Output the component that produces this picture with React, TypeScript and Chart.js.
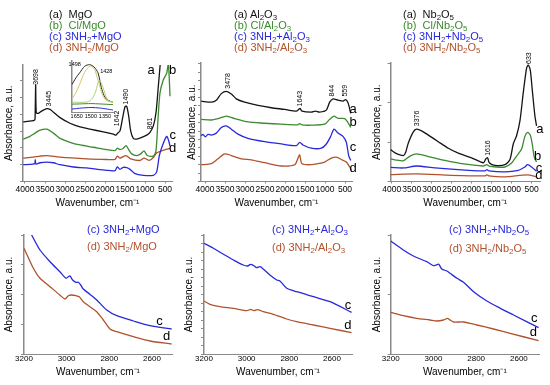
import React, { useEffect, useRef } from 'react';
import { Chart, registerables } from 'chart.js';

Chart.register(...registerables);
Chart.defaults.font.family = '"Liberation Sans", Arial, Helvetica, sans-serif';
Chart.defaults.color = '#000';

type Pt = [number, number];

const C_BLACK = '#141414';
const C_GREEN = '#3c8a2e';
const C_BLUE = '#2828dc';
const C_BROWN = '#b0522c';
const C_YELLOW = '#d2c65c';
const C_LGREEN = '#a9d27c';
const AXIS = '#8a8a8a';

// ---- tick values ----
const TOP_X_TICKS = [4000, 3500, 3000, 2500, 2000, 1500, 1000, 500];
const ZOOM_X_TICKS = [3200, 3000, 2800, 2600];
const INSET_X_TICKS = [1650, 1500, 1350];
const MGO_Y_TICKS = [0, 17, 34, 51, 68, 85, 102];
const AL_Y_TICKS = [0, 8.5, 17, 25.5, 34, 42.5, 51, 59.5, 68, 76.5, 85, 93.5, 102, 110.5, 119];
const NB_Y_TICKS = [0, 40, 80, 120];
const MGO_ZOOM_Y_TICKS = [0, 30, 60, 90, 119];
const AL_ZOOM_Y_TICKS = [0, 8.5, 17, 25.5, 34, 42.5, 51, 59.5, 68, 76.5, 85, 93.5, 102, 110.5, 119];
const NB_ZOOM_Y_TICKS = [0, 59.5, 119];

// ---- MgO full spectra (wavenumber, absorbance a.u.) ----
const mgoA: Pt[] = [[4045,60.3],[3833,61.3],[3758,62.3],[3748,64],[3733,98],[3718,69.7],[3667,69],[3583,71.3],[3458,73.7],[3375,73],[3292,70.3],[3125,64.7],[2875,59],[2625,55.3],[2375,53],[2042,50.3],[1792,48],[1725,47],[1683,49],[1625,51.3],[1558,64.7],[1500,75.7],[1458,76.3],[1408,66.3],[1358,51.3],[1292,43.7],[1208,43],[1083,44.7],[958,47],[875,49.7],[792,56.3],[725,69.7],[667,96.3],[625,116.3],[592,135]];
const mgoB: Pt[] = [[4045,43],[3875,45.7],[3750,49],[3625,52],[3458,53],[3292,49],[3125,43.7],[2875,39.7],[2625,37],[2292,34.7],[1958,32.3],[1750,31.3],[1692,33.7],[1625,32.3],[1542,33.7],[1475,36.3],[1408,32.3],[1333,28],[1208,26.3],[1108,28],[1025,31],[942,26.3],[792,25.7],[725,31.3],[675,63],[625,89.7],[542,103],[458,109.7],[417,119],[392,103],[375,86.3]];
const mgoC: Pt[] = [[4045,17],[3808,17.7],[3758,18],[3742,22],[3725,17.7],[3625,19],[3458,19.7],[3292,19],[3125,17],[2792,14.7],[2458,13.7],[1958,11.3],[1750,11],[1692,14.7],[1625,12.3],[1542,14.3],[1458,14],[1375,12.3],[1250,8],[1042,6.3],[792,6.3],[708,9.7],[642,26.3],[558,37],[458,45.7],[408,41.3],[375,35.7]];
const mgoD: Pt[] = [[4045,23.7],[3792,24.7],[3625,25.7],[3458,26.3],[3125,24.7],[2458,23],[1958,22.3],[1750,22.3],[1692,25.7],[1625,23.7],[1475,26.3],[1358,23],[1125,21.3],[1025,23.7],[892,21.3],[792,24.3],[708,29],[583,31],[458,32.7],[375,33.7]];

// ---- MgO inset (1700-1265 cm-1) ----
const insetA: Pt[] = [[1700,28],[1657,35],[1618,40],[1565,46.7],[1512,48.3],[1467,46],[1424,40],[1389,25],[1361,17],[1336,13.3],[1297,11],[1265,10]];
const insetFit1: Pt[] = [[1700,13.3],[1657,20],[1618,28.3],[1583,37],[1548,43.3],[1502,46.7],[1459,43.3],[1435,36],[1406,26.7],[1382,19],[1353,13.3],[1318,11],[1265,10]];
const insetFit2: Pt[] = [[1700,10],[1548,10],[1509,11.5],[1477,15],[1445,22],[1424,30],[1406,32.3],[1387,29],[1371,25],[1350,19],[1336,15],[1307,11],[1265,10]];
const insetB: Pt[] = [[1700,8],[1600,8.3],[1500,8.6],[1400,8.2],[1265,7.5]];
const insetC: Pt[] = [[1700,3],[1600,4],[1500,4.6],[1400,4],[1300,2.6],[1265,2]];

// ---- Al2O3 full spectra ----
const alA: Pt[] = [[4095,81.3],[3842,80.3],[3717,82.3],[3592,89],[3467,91.3],[3342,88.7],[3217,83.7],[3008,80.3],[2675,77],[2342,74.7],[2008,73],[1717,71.3],[1658,73],[1625,74],[1575,71.3],[1342,70.3],[1242,71.3],[1133,70.3],[967,72.3],[883,80.3],[800,83.7],[675,82.3],[550,81.3],[483,83],[425,79.7],[383,73.7],[358,69]];
const alB: Pt[] = [[4095,63],[3842,62.3],[3675,63.7],[3467,66.3],[3258,63.7],[2925,60.3],[2508,59],[2092,58],[1692,57.3],[1633,58.7],[1575,57.3],[1342,57],[1008,58],[883,63],[775,66.3],[675,64],[508,63.7],[425,59.7],[358,54.7]];
const alC: Pt[] = [[4095,46.3],[4050,47.7],[3992,45.3],[3925,47.7],[3842,47],[3717,49],[3592,54.7],[3467,56.3],[3342,53],[3175,48],[2925,43.7],[2508,40.3],[2092,38],[1717,36.3],[1633,39.7],[1550,37],[1342,33.7],[1092,33.7],[967,38],[858,45.7],[775,53],[675,49],[550,45.7],[467,39.7],[408,26.3],[358,21.3]];
const alD: Pt[] = [[4095,17],[3842,18],[3675,23],[3508,28],[3342,26.3],[3092,23],[2842,22],[2508,19],[2092,15.7],[1758,17],[1675,23.7],[1633,27],[1575,18],[1342,17],[1175,18],[1008,19.7],[842,23.7],[717,24.7],[592,22.3],[467,19.7],[383,14.7],[342,11.3]];

// ---- Nb2O5 full spectra ----
const nbA: Pt[] = [[4030,32.3],[3917,29],[3709,26.3],[3650,29.7],[3584,39],[3459,50.3],[3376,53],[3251,51.3],[3084,47],[2834,40.3],[2584,33.7],[2334,28.7],[2001,24],[1709,19],[1643,23],[1601,24],[1559,19],[1417,16.3],[1167,17],[1042,22.3],[959,38],[876,46.3],[792,61.3],[709,89.7],[626,114.7],[584,118],[534,113],[484,93],[417,66.3],[376,56.3]];
const nbB: Pt[] = [[4030,23],[3917,22],[3709,21],[3542,25.7],[3376,28],[3084,25.3],[2667,21.3],[2251,18],[1709,15.7],[1626,17],[1542,15.3],[1167,14.7],[1001,18.7],[876,25.7],[751,33],[668,45.7],[601,49.7],[534,47],[484,38],[434,24.7],[376,19.7]];
const nbC: Pt[] = [[4030,14.3],[3709,13.7],[3376,15.7],[2917,13.7],[2084,11.3],[1667,10.7],[1617,12],[1567,10.7],[1167,9.7],[834,11.3],[668,14.7],[601,17],[501,14.7],[376,10.3]];
const nbD: Pt[] = [[4030,7],[3376,7.7],[2501,6.3],[1667,5.7],[1617,6.7],[1567,5.7],[1167,4.7],[601,6.7],[376,4.7]];

// ---- C-H region (3200-2500 cm-1) ----
const mgoZoomC: Pt[] = [[3200,132.7],[3164,119],[3125,104],[3078,92.3],[3032,82.3],[3003,75.7],[2992,77.3],[2984,78],[2972,74],[2956,71.7],[2945,71.7],[2934,69],[2922,65],[2891,59.7],[2859,54],[2812,44],[2765,38.3],[2687,33],[2609,28.3],[2508,25]];
const mgoZoomD: Pt[] = [[3200,105.7],[3187,99.7],[3156,85.7],[3125,75.7],[3078,67.3],[3032,59],[3008,55],[2992,58.3],[2977,59],[2956,58.3],[2941,57.3],[2922,52.3],[2891,47.3],[2859,42.3],[2828,34],[2797,25],[2765,22.3],[2687,17.3],[2609,13],[2508,10]];
const alZoomC: Pt[] = [[3200,110.7],[3156,105.7],[3109,99.7],[3062,94],[3016,89],[2995,88],[2981,89.7],[2966,88.3],[2953,86.3],[2937,87.3],[2922,85],[2891,79],[2859,74],[2844,73],[2812,65.7],[2765,62.3],[2687,57.3],[2609,52.3],[2508,41.7]];
const alZoomD: Pt[] = [[3200,53],[3172,49.7],[3125,47.3],[3062,45.7],[3000,43.3],[2981,44.7],[2966,43.3],[2950,44.3],[2937,43.7],[2922,42.3],[2875,39.7],[2812,35],[2765,32.3],[2687,29],[2609,25.7],[2508,21.3]];
const nbZoomC: Pt[] = [[3200,113],[3141,104],[3094,98],[3031,92.3],[3000,88.3],[2987,89],[2975,89.7],[2961,85],[2937,83],[2922,80.7],[2890,75.7],[2859,71.7],[2812,62.3],[2750,53],[2687,45.7],[2625,39],[2508,26.3]];
const nbZoomD: Pt[] = [[3200,41.7],[3141,38.3],[3078,35.7],[3016,34],[2984,33],[2953,34],[2934,35.7],[2922,34],[2906,32],[2859,32],[2797,29],[2719,25],[2641,20.7],[2508,13.3]];

interface Txt { t: string; x: number; y: number; size: number; rot?: boolean; color?: string }
interface Series { data: Pt[]; color: string; width?: number }
interface Spec {
  left: number; top: number; width: number; height: number;
  pad: { left: number; right: number; top: number; bottom: number };
  xMin: number; xMax: number; yMax: number;
  xTicks: number[]; yTicks: number[];
  xFont: number; xTickLen: number; xTickPad: number; xTitlePadTop: number;
  titles: boolean; yTitlePadBottom: number; yTickLen: number;
  series: Series[]; texts: Txt[];
}

const FONT = '"Liberation Sans", Arial, Helvetica, sans-serif';

function Panel({ s }: { s: Spec }) {
  const ref = useRef<HTMLCanvasElement>(null);
  useEffect(() => {
    const textPlugin = {
      id: 'panelTexts',
      afterDatasetsDraw(chart: any) {
        const { ctx } = chart;
        const x = chart.scales.x;
        const y = chart.scales.y;
        for (const t of s.texts) {
          const px = x.getPixelForValue(t.x);
          const py = y.getPixelForValue(t.y);
          ctx.save();
          ctx.translate(px, py);
          ctx.fillStyle = t.color || '#000';
          ctx.font = `${t.size}px ${FONT}`;
          ctx.textBaseline = 'middle';
          if (t.rot) {
            ctx.rotate(-Math.PI / 2);
            ctx.textAlign = 'left';
          } else {
            ctx.textAlign = 'center';
          }
          ctx.fillText(t.t, 0, 0);
          ctx.restore();
        }
      },
    };
    const chart = new Chart(ref.current as HTMLCanvasElement, {
      type: 'line',
      data: {
        datasets: s.series.map((se) => ({
          data: se.data.map(([x, y]) => ({ x, y })),
          borderColor: se.color,
          borderWidth: se.width ?? 1.3,
          pointRadius: 0,
          tension: 0.25,
          fill: false,
        })),
      },
      options: {
        animation: false,
        responsive: false,
        devicePixelRatio: 1,
        events: [],
        layout: { padding: s.pad },
        plugins: { legend: { display: false }, tooltip: { enabled: false }, title: { display: false } },
        scales: {
          x: {
            type: 'linear',
            reverse: true,
            min: s.xMin,
            max: s.xMax,
            afterBuildTicks: (axis: any) => { axis.ticks = s.xTicks.map((v) => ({ value: v })); },
            ticks: {
              font: { size: s.xFont },
              color: '#000',
              padding: s.xTickPad,
              maxRotation: 0,
              minRotation: 0,
              autoSkip: false,
              callback: (v: any) => String(v),
            },
            grid: { display: true, drawOnChartArea: false, drawTicks: s.xTickLen > 0, tickLength: s.xTickLen, color: AXIS },
            border: { display: true, color: AXIS, width: 1 },
            title: {
              display: s.titles,
              text: 'Wavenumber, cm⁻¹',
              font: { size: 10 },
              color: '#000',
              padding: { top: s.xTitlePadTop, bottom: 0 },
            },
          },
          y: {
            type: 'linear',
            min: 0,
            max: s.yMax,
            afterBuildTicks: (axis: any) => { axis.ticks = s.yTicks.map((v) => ({ value: v })); },
            ticks: { display: false },
            grid: { display: true, drawOnChartArea: false, drawTicks: s.yTickLen > 0, tickLength: s.yTickLen, color: AXIS },
            border: { display: true, color: AXIS, width: 1.5 },
            title: {
              display: s.titles,
              text: 'Absorbance, a.u.',
              font: { size: 10 },
              color: '#000',
              padding: { top: 0, bottom: s.yTitlePadBottom },
            },
          },
        },
      },
      plugins: [textPlugin],
    } as any);
    return () => chart.destroy();
  }, [s]);
  return (
    <canvas
      ref={ref}
      width={s.width}
      height={s.height}
      style={{ position: 'absolute', left: s.left, top: s.top, width: s.width, height: s.height, display: 'block' }}
    />
  );
}

const topCommon = { xFont: 8.5, xTickLen: 2, xTickPad: 1.5, xTitlePadTop: 0.5, titles: true, yTickLen: 3, xTicks: TOP_X_TICKS, height: 210, top: 0 };
const botCommon = { xFont: 8, xTickLen: 0, xTickPad: 0, xTitlePadTop: 2.4, titles: true, yTickLen: 3, xTicks: ZOOM_X_TICKS, height: 163, top: 215, xMin: 2506, xMax: 3200, yMax: 119 };

const specs: Spec[] = [
  {
    ...topCommon, left: 1, width: 179, pad: { left: 2, right: 8, top: 65, bottom: 0.8 },
    xMin: 325, xMax: 4050, yMax: 118, yTicks: MGO_Y_TICKS, yTitlePadBottom: 5,
    series: [{ data: mgoA, color: C_BLACK }, { data: mgoB, color: C_GREEN }, { data: mgoC, color: C_BLUE }, { data: mgoD, color: C_BROWN }],
    texts: [
      { t: '3698', x: 3720, y: 98, size: 7, rot: true }, { t: '3445', x: 3400, y: 76, size: 7, rot: true },
      { t: '1490', x: 1475, y: 78, size: 7, rot: true }, { t: '1642', x: 1708, y: 56, size: 7, rot: true },
      { t: '861', x: 875, y: 53, size: 7, rot: true },
      { t: 'a', x: 850, y: 113, size: 13 }, { t: 'b', x: 308, y: 113, size: 13 },
      { t: 'c', x: 308, y: 46.3, size: 13 }, { t: 'd', x: 308, y: 34, size: 13 },
    ],
  },
  {
    ...topCommon, left: 184, width: 176, pad: { left: 2, right: 8, top: 63, bottom: 0.8 },
    xMin: 325, xMax: 4100, yMax: 120, yTicks: AL_Y_TICKS, yTitlePadBottom: 0,
    series: [{ data: alA, color: C_BLACK }, { data: alB, color: C_GREEN }, { data: alC, color: C_BLUE }, { data: alD, color: C_BROWN }],
    texts: [
      { t: '3478', x: 3425, y: 94, size: 7, rot: true }, { t: '1643', x: 1633, y: 76, size: 7, rot: true },
      { t: '844', x: 817, y: 86, size: 7, rot: true }, { t: '559', x: 492, y: 86, size: 7, rot: true },
      { t: 'a', x: 300, y: 73, size: 13 }, { t: 'b', x: 300, y: 60, size: 13 },
      { t: 'c', x: 300, y: 35, size: 13 }, { t: 'd', x: 300, y: 13, size: 13 },
    ],
  },
  {
    ...topCommon, left: 369, width: 179, pad: { left: 2, right: 8, top: 63, bottom: 0.8 },
    xMin: 290, xMax: 4030, yMax: 120, yTicks: NB_Y_TICKS, yTitlePadBottom: 4.5,
    series: [{ data: nbA, color: C_BLACK }, { data: nbB, color: C_GREEN }, { data: nbC, color: C_BLUE }, { data: nbD, color: C_BROWN }],
    texts: [
      { t: '3376', x: 3376, y: 56, size: 7, rot: true }, { t: '1616', x: 1601, y: 26, size: 7, rot: true },
      { t: '633', x: 567, y: 119, size: 7, rot: true },
      { t: 'a', x: 292, y: 53, size: 13 }, { t: 'b', x: 350, y: 25.7, size: 13 },
      { t: 'c', x: 317, y: 13.7, size: 13 }, { t: 'd', x: 317, y: 5.7, size: 13 },
    ],
  },
  {
    ...botCommon, left: 1, width: 179, pad: { left: 2, right: 8, top: 20, bottom: 0 },
    yTicks: MGO_ZOOM_Y_TICKS, yTitlePadBottom: 6,
    series: [{ data: mgoZoomC, color: C_BLUE }, { data: mgoZoomD, color: C_BROWN }],
    texts: [{ t: 'c', x: 2565, y: 32.3, size: 13 }, { t: 'd', x: 2531, y: 17.3, size: 13 }],
  },
  {
    ...botCommon, left: 181, width: 179, pad: { left: 2, right: 8, top: 20, bottom: 0 },
    yTicks: AL_ZOOM_Y_TICKS, yTitlePadBottom: 6,
    series: [{ data: alZoomC, color: C_BLUE }, { data: alZoomD, color: C_BROWN }],
    texts: [{ t: 'c', x: 2525, y: 49, size: 13 }, { t: 'd', x: 2525, y: 29, size: 13 }],
  },
  {
    ...botCommon, left: 369, width: 178, pad: { left: 2, right: 8, top: 20, bottom: 0 },
    yTicks: NB_ZOOM_Y_TICKS, yTitlePadBottom: 4.7,
    series: [{ data: nbZoomC, color: C_BLUE }, { data: nbZoomD, color: C_BROWN }],
    texts: [{ t: 'c', x: 2528, y: 36, size: 13 }, { t: 'd', x: 2532, y: 22, size: 13 }],
  },
  {
    left: 60, top: 55, width: 60, height: 70, pad: { left: 11.5, right: 7, top: 6, bottom: 4.4 },
    xMin: 1265, xMax: 1705, yMax: 52, xTicks: INSET_X_TICKS, yTicks: [],
    xFont: 5.5, xTickLen: 0, xTickPad: 1, xTitlePadTop: 0, titles: false, yTitlePadBottom: 0, yTickLen: 0,
    series: [
      { data: insetFit1, color: C_YELLOW, width: 1 }, { data: insetFit2, color: C_LGREEN, width: 1 },
      { data: insetA, color: '#2a2a2a', width: 1 }, { data: insetB, color: C_GREEN, width: 1 }, { data: insetC, color: C_BLUE, width: 1 },
    ],
    texts: [{ t: '1498', x: 1671, y: 48.3, size: 5.5 }, { t: '1428', x: 1336, y: 41.7, size: 5.5 }],
  },
];

const S = ({ children }: { children: React.ReactNode }) => (
  <sub style={{ fontSize: '0.72em', verticalAlign: '-0.25em', lineHeight: 0 }}>{children}</sub>
);

interface LegendLine { x: number; y: number; color: string; content: React.ReactNode }

const legendLines: LegendLine[] = [
  { x: 49, y: 14, color: C_BLACK, content: <>(a)  MgO</> },
  { x: 49, y: 25, color: C_GREEN, content: <>(b)  Cl/MgO</> },
  { x: 49, y: 36, color: C_BLUE, content: <>(c) 3NH<S>2</S>+MgO</> },
  { x: 49, y: 47, color: C_BROWN, content: <>(d) 3NH<S>2</S>/MgO</> },
  { x: 234, y: 14, color: C_BLACK, content: <>(a) Al<S>2</S>O<S>3</S></> },
  { x: 234, y: 25, color: C_GREEN, content: <>(b) Cl/Al<S>2</S>O<S>3</S></> },
  { x: 234, y: 36, color: C_BLUE, content: <>(c) 3NH<S>2</S>+Al<S>2</S>O<S>3</S></> },
  { x: 234, y: 47, color: C_BROWN, content: <>(d) 3NH<S>2</S>/Al<S>2</S>O<S>3</S></> },
  { x: 403, y: 14, color: C_BLACK, content: <>(a)  Nb<S>2</S>O<S>5</S></> },
  { x: 403, y: 25, color: C_GREEN, content: <>(b)  Cl/Nb<S>2</S>O<S>5</S></> },
  { x: 403, y: 36, color: C_BLUE, content: <>(c) 3NH<S>2</S>+Nb<S>2</S>O<S>5</S></> },
  { x: 403, y: 47, color: C_BROWN, content: <>(d) 3NH<S>2</S>/Nb<S>2</S>O<S>5</S></> },
  { x: 87, y: 229, color: C_BLUE, content: <>(c) 3NH<S>2</S>+MgO</> },
  { x: 87, y: 246, color: C_BROWN, content: <>(d) 3NH<S>2</S>/MgO</> },
  { x: 272, y: 229, color: C_BLUE, content: <>(c) 3NH<S>2</S>+Al<S>2</S>O<S>3</S></> },
  { x: 272, y: 247, color: C_BROWN, content: <>(d) 3NH<S>2</S>/Al<S>2</S>O<S>3</S></> },
  { x: 449, y: 229, color: C_BLUE, content: <>(c) 3NH<S>2</S>+Nb<S>2</S>O<S>5</S></> },
  { x: 449, y: 248, color: C_BROWN, content: <>(d) 3NH<S>2</S>/Nb<S>2</S>O<S>5</S></> },
];

export default function App() {
  return (
    <div style={{ position: 'absolute', left: 0, top: 0, width: 550, height: 385, background: '#fff', overflow: 'hidden', fontFamily: FONT }}>
      {specs.map((s, i) => <Panel key={i} s={s} />)}
      {legendLines.map((l, i) => (
        <div
          key={'l' + i}
          style={{ position: 'absolute', left: l.x, top: l.y - 7, height: 14, lineHeight: '14px', fontSize: 11, color: l.color, whiteSpace: 'pre' }}
        >
          {l.content}
        </div>
      ))}
    </div>
  );
}
